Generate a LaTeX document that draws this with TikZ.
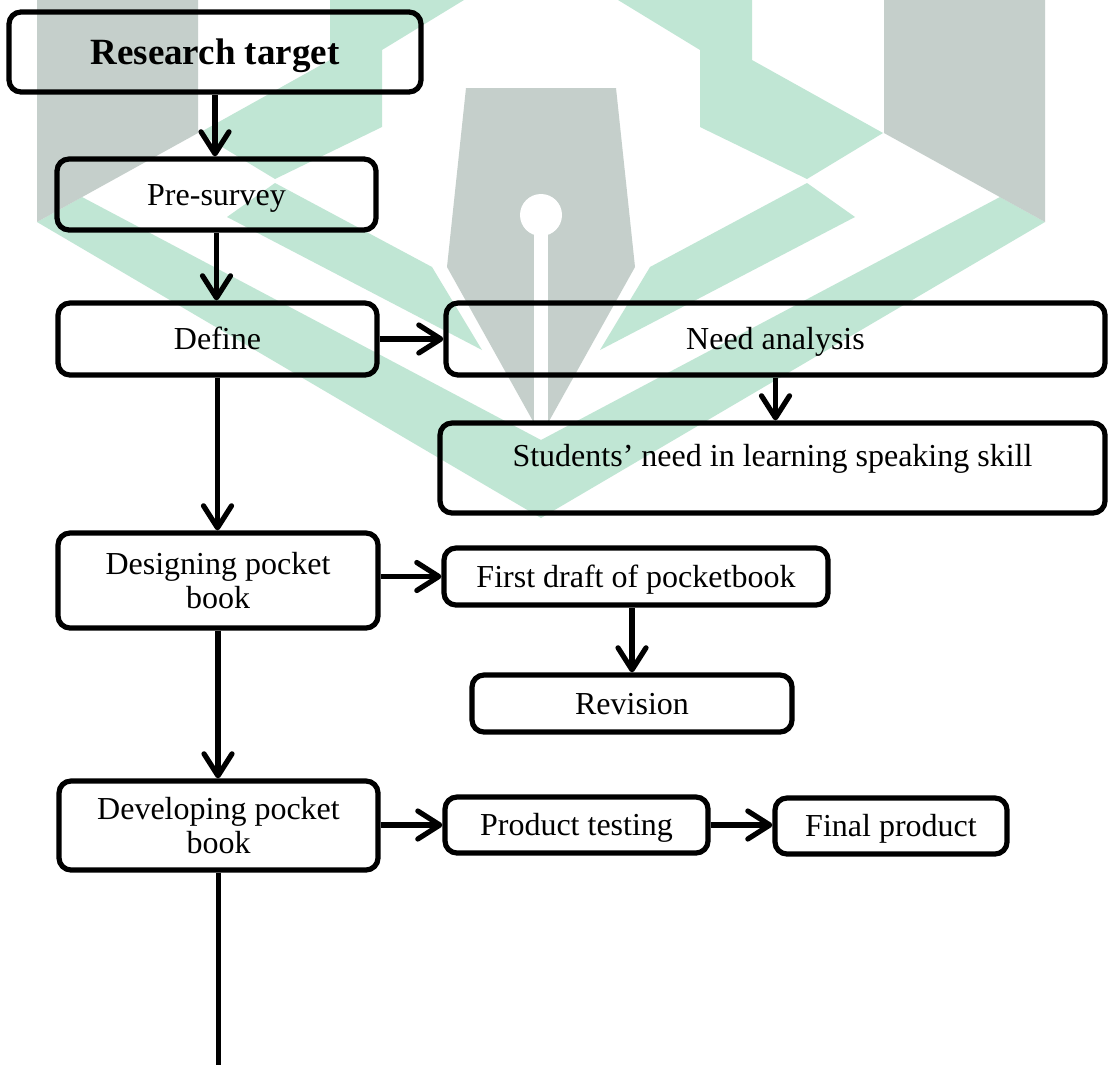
\documentclass[tikz,border=0pt]{standalone}
\usepackage{fontspec}
\setmainfont{Liberation Serif}
\usetikzlibrary{arrows.meta}
\definecolor{wmgreen}{RGB}{192,230,212}
\definecolor{wmgray}{RGB}{197,207,203}
\begin{document}
\begin{tikzpicture}[x=1pt,y=-1pt,
  flowbox/.style={draw=black,line width=5.2pt,rounded corners=12pt,inner sep=0pt,align=center,
    font=\fontsize{32pt}{34pt}\selectfont},
  oneline/.style={flowbox,text height=21pt,text depth=0pt},
  arr/.style={line width=5.2pt,-{Straight Barb[round,length=22pt,width=28pt]}},
  ln/.style={line width=5.2pt},
  wmg/.style={fill=wmgreen},
  wmy/.style={fill=wmgray}]
\useasboundingbox (0,0) rectangle (1108,1065);
\fill[white] (0,0) rectangle (1108,1065);
% watermark
\fill[wmg] (618,0)--(752,0)--(752,60)--(883,133)--(807,179)--(700,127)--(700,50)--cycle;
\fill[wmg] (807,183)--(855,217)--(600,350)--(650,267)--cycle;
\fill[wmg] (464,0)--(330,0)--(330,60)--(199,133)--(275,179)--(382,127)--(382,50)--cycle;
\fill[wmg] (275,183)--(227,217)--(482,350)--(432,267)--cycle;
\fill[wmg] (37,222)--(82,197)--(541,440)--(1000,197)--(1045,222)--(541,518)--cycle;
\fill[wmy] (37,0)--(198,0)--(198,133)--(37,222)--cycle;
\fill[wmy] (884,0)--(1045,0)--(1045,222)--(884,133)--cycle;
\fill[wmy] (466,88)--(616,88)--(635,267)--(548,423)--(534,423)--(447,267)--cycle;
\fill[white] (534,215) rectangle (548,426);
\fill[white] (541,215) circle (21pt);
% boxes
\node[oneline,minimum width=412pt,minimum height=80pt,text height=24.5pt,
  font=\fontsize{37pt}{40pt}\selectfont\bfseries] (target) at (215,52) {Research target};
\node[oneline,minimum width=319pt,minimum height=71pt] (pre) at (216.5,194.5) {Pre-survey};
\node[oneline,minimum width=319pt,minimum height=72pt] (define) at (217.5,339) {Define};
\node[oneline,minimum width=659pt,minimum height=72pt] (need) at (775.5,339) {Need analysis};
\node[flowbox,minimum width=665pt,minimum height=90pt,text height=21pt,text depth=24pt] (students) at (772.5,468) {Students’ need in learning speaking skill};
\node[flowbox,minimum width=320pt,minimum height=95pt] (design) at (218,580.5) {Designing pocket\\book};
\node[oneline,minimum width=384pt,minimum height=57pt] (draft) at (636,576.5) {First draft of pocketbook};
\node[oneline,minimum width=320pt,minimum height=57pt] (revision) at (632,703.5) {Revision};
\node[flowbox,minimum width=319pt,minimum height=89pt] (develop) at (218.5,825.5) {Developing pocket\\book};
\node[oneline,minimum width=263pt,minimum height=56pt] (test) at (576.5,825) {Product testing};
\node[oneline,minimum width=232pt,minimum height=56pt] (final) at (891,826) {Final product};
\coordinate (tail) at (218.5,1075);
% connectors
\draw[arr] (target.south) -- (target.south |- pre.north);
\draw[arr] (pre.south) -- (pre.south |- define.north);
\draw[arr] (define.east) -- (need.west);
\draw[arr] (need.south) -- (need.south |- students.north);
\draw[arr] (define.south) -- (define.south |- design.north);
\draw[arr] (design.east |- draft.west) -- (draft.west);
\draw[arr] (revision.north |- draft.south) -- (revision.north);
\draw[arr] (design.south) -- (design.south |- develop.north);
\draw[arr] (develop.east |- test.west) -- (test.west);
\draw[arr] (test.east) -- (test.east -| final.west);
\draw[ln] (develop.south) -- (tail);
\end{tikzpicture}
\end{document}
